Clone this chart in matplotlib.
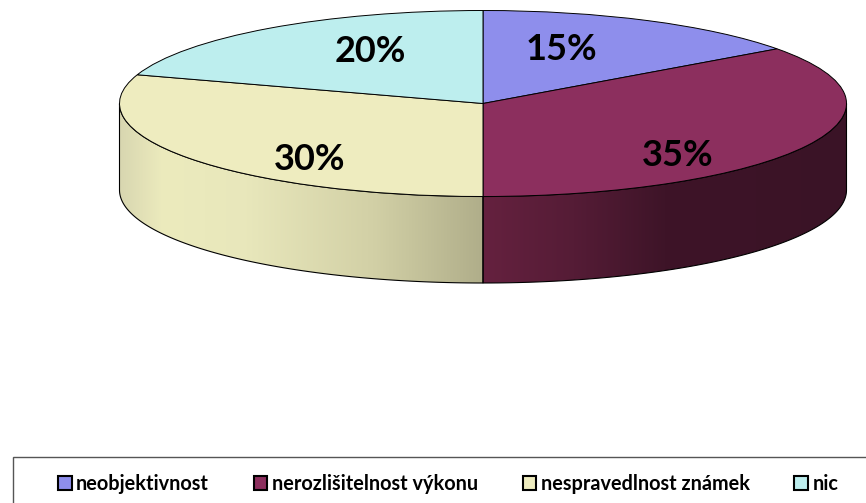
import matplotlib.pyplot as plt
from matplotlib.colors import LinearSegmentedColormap
from matplotlib.patches import Patch, Polygon, Rectangle
import numpy as np

categories = ['neobjektivnost', 'nerozlišitelnost výkonu', 'nespravedlnost známek', 'nic']
values = [15, 35, 30, 20]
colors = ['#8e8eec', '#8c2f5e', '#eeecbf', '#bdeeee']

W, H = 866, 503
cx, cy = 483, 103.5
rx, ry = 363.5, 93
depth = 86.5 / ry

plt.rcParams['font.family'] = ['Lato', 'DejaVu Sans']

fig = plt.figure(figsize=(W / 100, H / 100), dpi=100)
ax = fig.add_axes([0, 0, 1, 1])


def px(x, y):
	# picture pixels to axes units (unit circle squashed to the ellipse)
	return (x - cx) / rx, (cy - y) / ry


def wall(t0, t1, stops, extent):
	# side wall of the disc between two angles, filled with a gradient
	t = np.linspace(t0, t1, 200)
	xs, ys = np.cos(t), np.sin(t)
	poly = Polygon(np.r_[np.c_[xs, ys], np.c_[xs[::-1], ys[::-1] - depth]], closed=True,
		facecolor='none', edgecolor='black', linewidth=0.8, zorder=3)
	ax.add_patch(poly)
	cmap = LinearSegmentedColormap.from_list('w', stops)
	im = ax.imshow(np.linspace(0, 1, 256).reshape(1, -1), cmap=cmap, extent=extent, aspect='auto', zorder=2)
	im.set_clip_path(poly)


wall(np.pi, 1.5 * np.pi, [(0, '#d8d6b0'), (0.12, '#ecebbd'), (0.35, '#e8e7bb'), (0.7, '#d2d0a6'), (1, '#b0ae8a')],
	(-1, 0, -1 - depth, 0))
wall(1.5 * np.pi, 2 * np.pi, [(0, '#65213f'), (0.25, '#551c36'), (0.5, '#3e1428'), (1, '#3a1326')],
	(0, 1, -1 - depth, 0))

# top of the pie
ax.pie(values, colors=colors, startangle=90, counterclock=False, radius=1, center=(0, 0),
	wedgeprops={'edgecolor': 'black', 'linewidth': 0.7, 'zorder': 4})
ax.set_aspect('auto')
ax.set_xlim(px(0, 0)[0], px(W, 0)[0])
ax.set_ylim(px(0, H)[1], px(0, 0)[1])
ax.axis('on')
ax.set_xticks([])
ax.set_yticks([])
for s in ax.spines.values():
	s.set_visible(False)

# labels
label_pos = [(561, 49.5), (678, 155.5), (310, 159.5), (370, 51.5)]
for v, (lx, ly) in zip(values, label_pos):
	ax.text(*px(lx, ly), f'{v}%', ha='center', va='center', fontsize=26, fontweight='bold', color='black', zorder=6)

# legend box runs past the right and bottom edge of the picture
ax.add_patch(Rectangle(px(13, 510), (W + 20 - 13) / rx, (510 - 457.5) / ry, facecolor='white',
	edgecolor='#555555', linewidth=1, zorder=1))
handles = [Patch(facecolor=c, edgecolor='black', linewidth=1.5) for c in colors]
ax.legend(handles, categories, ncol=4, frameon=False, loc='center left',
	bbox_to_anchor=(58 / W, 1 - 484 / H), handlelength=0.69, handleheight=0.69,
	handletextpad=0.22, columnspacing=2.25, borderpad=0, borderaxespad=0,
	prop={'weight': 'bold', 'size': 14.3})

fig.savefig('out.png', dpi=100)
